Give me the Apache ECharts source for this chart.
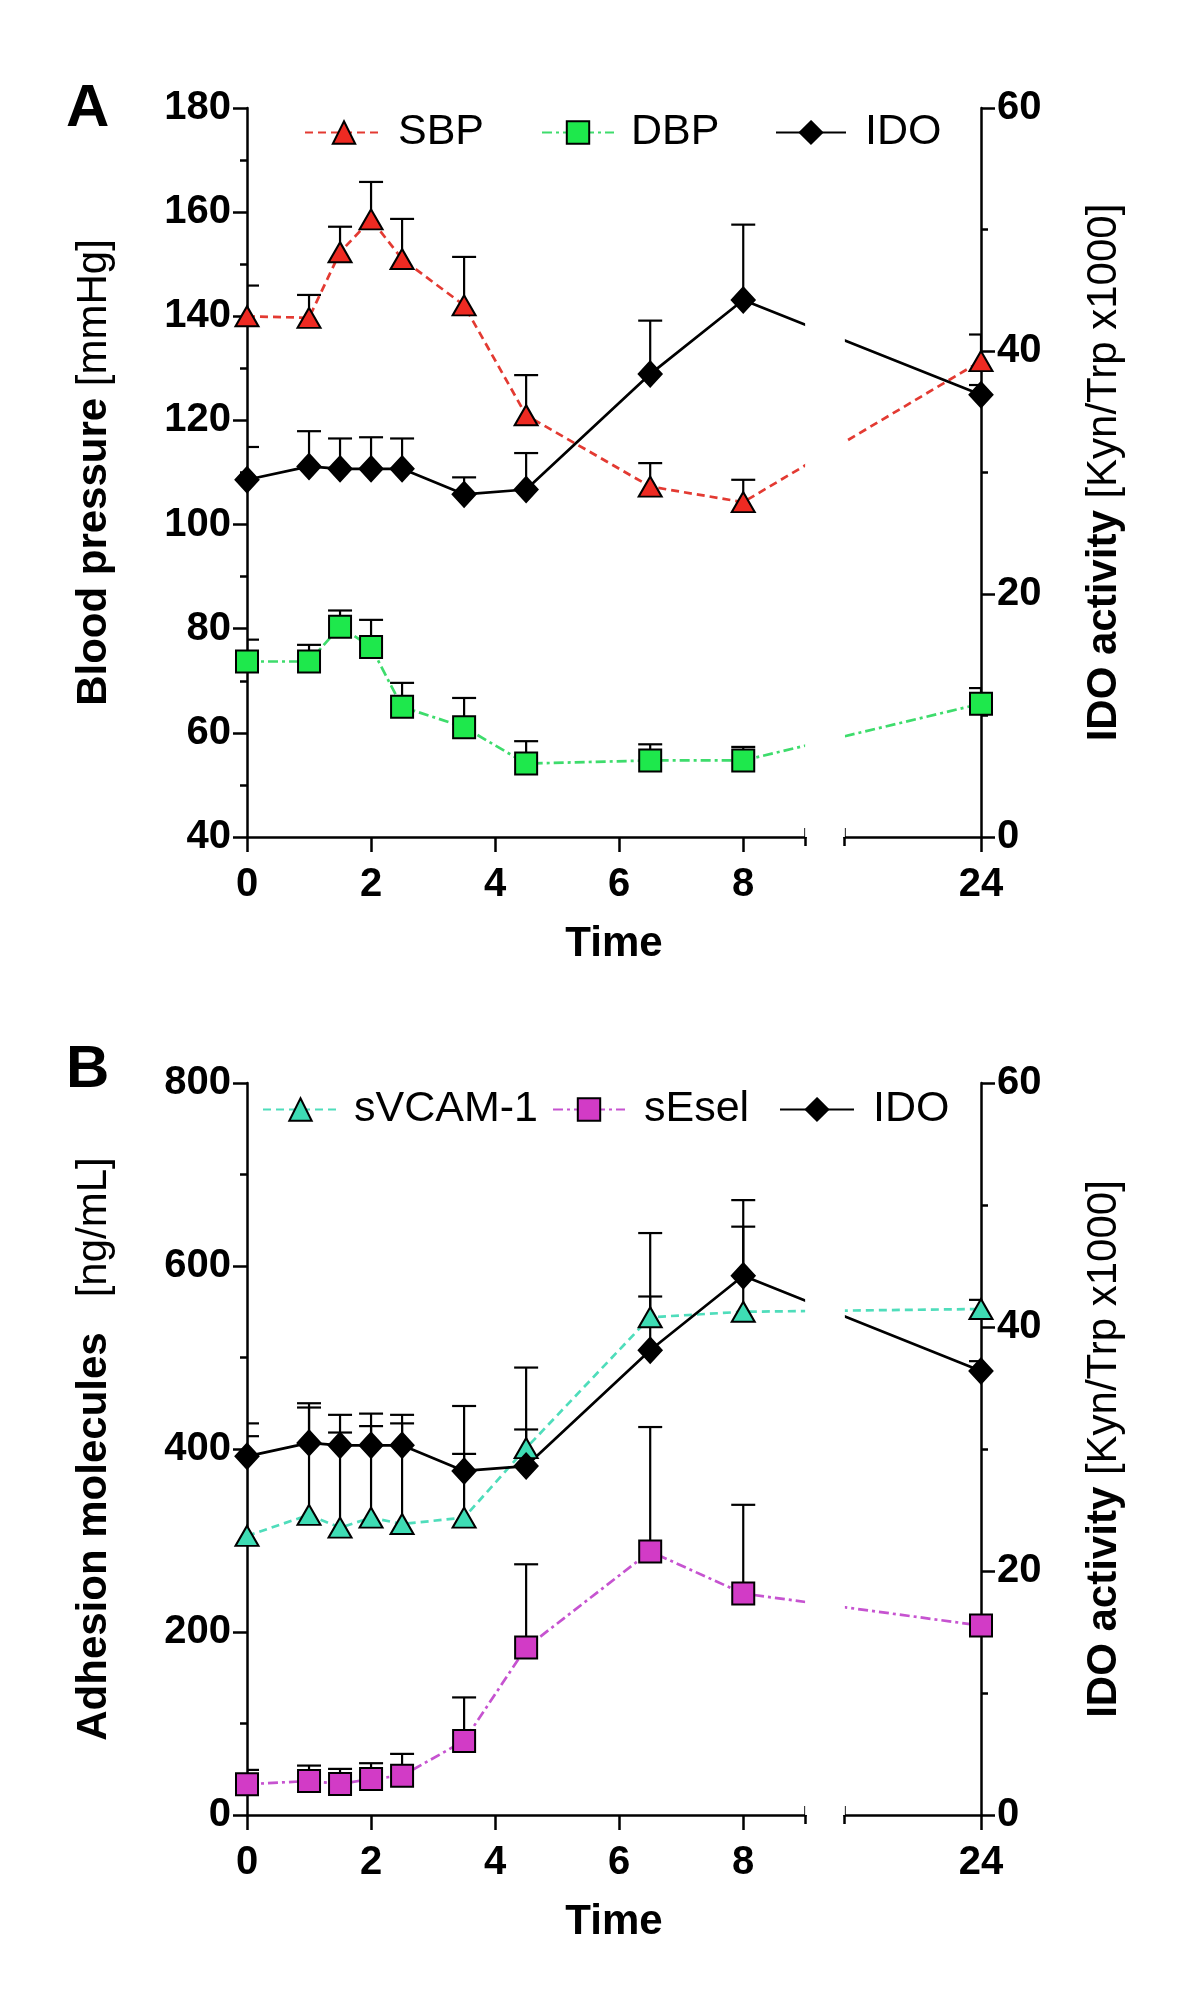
<!DOCTYPE html>
<html><head><meta charset="utf-8">
<script src="https://cdn.jsdelivr.net/npm/echarts@6/dist/echarts.min.js"></script>
<style>html,body{margin:0;padding:0;background:#fff}#c{width:1200px;height:2011px}</style>
</head><body><div id="c"></div>
<script>
// ---- data ----
const times = [0, 1, 1.5, 2, 2.5, 3.5, 4.5, 6.5, 8, 24];
const xLabelValues = [0, 2, 4, 6, 8, 24];
const breakStart = 9, breakEnd = 21.8;

const sbpMean = [140, 139.7, 152.3, 158.6, 151, 142.1, 121, 107.3, 104.3, 131.4];
const sbpErr  = [5.9, 4.4, 4.9, 7.2, 7.7, 9.3, 7.7, 4.5, 4.3, 5.1];
const dbpMean = [73.7, 73.7, 80.4, 76.5, 65.0, 61.1, 54.1, 54.7, 54.7, 65.6];
const dbpErr  = [4.2, 3.2, 3.1, 5.2, 4.6, 5.6, 4.3, 3.1, 2.6, 3.0];
const idoMean = [29.4, 30.5, 30.3, 30.3, 30.3, 28.2, 28.6, 38.1, 44.2, 36.4];
const idoErr  = [2.7, 2.9, 2.5, 2.6, 2.5, 1.4, 3.0, 4.4, 6.2, 0.8];
const vcamMean = [305, 328, 314, 325, 318, 325, 401, 544, 550, 553];
const vcamErr  = [109, 122, 104, 100, 110, 122, 88, 92, 93, 10];
const eselMean = [33.6, 37.2, 34, 39.4, 43, 81, 183, 288, 242, 207];
const eselErr  = [15.7, 16.8, 16.4, 17.2, 23.8, 47.5, 91, 136, 97, 5];

const bpTicks = {min: 40, max: 180, interval: 20};
const amTicks = {min: 0, max: 800, interval: 200};
const idoTicks = {min: 0, max: 60, interval: 20};

// ---- styling ----
const F = '"Liberation Sans", Arial, Helvetica, sans-serif';
const AX = {color: '#000', width: 2.5};
const C = {
  sbp: {fill: '#EE2A22', line: '#E33A32'},
  dbp: {fill: '#1EE84C', line: '#3EDC6C'},
  ido: {fill: '#000000', line: '#000000'},
  vcam: {fill: '#3EDCB4', line: '#4FDDBB'},
  esel: {fill: '#D23BC6', line: '#C653D0'}
};
const pairs = (m) => times.map((t, i) => [t, m[i]]);
const triples = (m, e) => times.map((t, i) => [t, m[i], e[i]]);

function xAxes(grid) {
  const base = {
    type: 'value', gridIndex: grid, position: 'bottom', offset: 0, min: 0, max: 24,
    breaks: [{start: breakStart, end: breakEnd, gap: 0.633}],
    breakArea: {show: true, itemStyle: {color: '#fff', borderColor: '#fff', borderWidth: 0, opacity: 1}, zigzagAmplitude: 0, expandOnClick: false},
    splitLine: {show: false}
  };
  return [
    Object.assign({}, base, {
      axisLine: {show: true, onZero: false, lineStyle: AX},
      axisTick: {show: true, length: 15, lineStyle: AX, customValues: xLabelValues},
      axisLabel: {show: true, margin: 28, fontSize: 40, fontWeight: 'bold', color: '#000', fontFamily: F, customValues: xLabelValues},
      name: 'Time', nameLocation: 'middle', nameGap: 86,
      nameTextStyle: {fontSize: 42, fontWeight: 'bold', color: '#000', fontFamily: F}
    }),
    Object.assign({}, base, {
      axisLine: {show: false, onZero: false},
      axisTick: {show: true, inside: true, length: 9, lineStyle: AX, customValues: [breakStart, breakEnd]},
      axisLabel: {show: false}
    }),
    Object.assign({}, base, {
      axisLine: {show: false, onZero: false},
      axisTick: {show: true, inside: false, length: 9, lineStyle: AX, customValues: [breakStart, breakEnd]},
      axisLabel: {show: false}
    })
  ];
}

function yAxis(grid, pos, ticks, name, nameGap) {
  return {
    type: 'value', gridIndex: grid, position: pos,
    min: ticks.min, max: ticks.max, interval: ticks.interval,
    axisLine: {show: true, onZero: false, lineStyle: AX},
    axisTick: {show: true, length: 14, lineStyle: AX},
    minorTick: {show: true, splitNumber: 2, length: 7, lineStyle: AX},
    splitLine: {show: false}, minorSplitLine: {show: false},
    axisLabel: {margin: 16, fontSize: 40, fontWeight: 'bold', color: '#000', fontFamily: F},
    name: name, nameLocation: 'middle', nameRotate: 90, nameGap: nameGap,
    nameTextStyle: {color: '#000', fontFamily: F, fontSize: 42, rich: {
      b: {fontSize: 42, fontWeight: 'bold', color: '#000', fontFamily: F},
      n: {fontSize: 42, fontWeight: 'normal', color: '#000', fontFamily: F}
    }}
  };
}

function lineSeries(name, xi, yi, mean, col, dash, symbol, size) {
  return {
    type: 'line', name: name, xAxisIndex: xi, yAxisIndex: yi,
    data: pairs(mean), symbol: symbol, symbolSize: size,
    lineStyle: {color: col.line, width: 2.7, type: dash},
    itemStyle: {color: col.fill, borderColor: '#000', borderWidth: 2},
    z: 4, animation: false, emphasis: {disabled: true}, clip: false
  };
}

function errSeries(xi, yi, mean, err) {
  return {
    type: 'custom', xAxisIndex: xi, yAxisIndex: yi, data: triples(mean, err),
    z: 3, animation: false, clip: true, silent: true,
    renderItem: function (params, api) {
      const x = api.value(0), y = api.value(1), e = api.value(2);
      const p0 = api.coord([x, y]), p1 = api.coord([x, y + e]);
      const w = 12;
      return {type: 'group', children: [
        {type: 'line', shape: {x1: p0[0], y1: p0[1], x2: p1[0], y2: p1[1]}, style: {stroke: '#000', lineWidth: 2.2}},
        {type: 'line', shape: {x1: p1[0] - w, y1: p1[1], x2: p1[0] + w, y2: p1[1]}, style: {stroke: '#000', lineWidth: 2.2}}
      ]};
    }
  };
}

function legendItem(name, left, top, width, pad) {
  return {
    data: [name], left: left, top: top, itemWidth: width, itemHeight: 28,
    selectedMode: false, z: 300, padding: 0,
    textStyle: {fontSize: 43, color: '#000', fontFamily: F, padding: [0, 0, 0, pad]}
  };
}

const dashed = [8, 5];
const dashDot = [10, 4, 3, 4];
const TRI = [23, 20], SQ = 22, DIA = [23, 25];

const chart = echarts.init(document.getElementById('c'), null, {renderer: 'canvas'});
chart.setOption({
  backgroundColor: '#fff',
  animation: false,
  grid: [
    {left: 247, top: 108, width: 734, height: 729},
    {left: 247, top: 1083, width: 734, height: 732}
  ],
  xAxis: xAxes(0).concat(xAxes(1)),
  yAxis: [
    yAxis(0, 'left', bpTicks, '{b|Blood pressure }{n|[mmHg]}', 132),
    yAxis(0, 'right', idoTicks, '{b|IDO activity }{n|[Kyn/Trp x1000]}', 102),
    yAxis(1, 'left', amTicks, '{b|Adhesion molecules}{n|   [ng/mL]}', 132),
    yAxis(1, 'right', idoTicks, '{b|IDO activity }{n|[Kyn/Trp x1000]}', 102)
  ],
  legend: [
    legendItem('SBP', 304, 111, 78, 10),
    legendItem('DBP', 541, 111, 72, 12),
    legendItem('IDO', 775, 111, 70, 14),
    legendItem('sVCAM-1', 262, 1088, 75, 11),
    legendItem('sEsel', 552, 1088, 72, 14),
    legendItem('IDO ', 779, 1088, 74, 14)
  ],
  graphic: [
    {type: 'text', left: 66, top: 79, z: 100, style: {text: 'A', fontSize: 60, fontWeight: 'bold', fill: '#000', fontFamily: F}},
    {type: 'text', left: 66, top: 1040, z: 100, style: {text: 'B', fontSize: 60, fontWeight: 'bold', fill: '#000', fontFamily: F}}
  ],
  series: [
    errSeries(0, 0, sbpMean, sbpErr),
    errSeries(0, 0, dbpMean, dbpErr),
    errSeries(0, 1, idoMean, idoErr),
    lineSeries('SBP', 0, 0, sbpMean, C.sbp, dashed, 'triangle', TRI),
    lineSeries('DBP', 0, 0, dbpMean, C.dbp, dashDot, 'rect', SQ),
    lineSeries('IDO', 0, 1, idoMean, C.ido, 'solid', 'diamond', DIA),
    errSeries(3, 2, vcamMean, vcamErr),
    errSeries(3, 2, eselMean, eselErr),
    errSeries(3, 3, idoMean, idoErr),
    lineSeries('sVCAM-1', 3, 2, vcamMean, C.vcam, dashed, 'triangle', TRI),
    lineSeries('sEsel', 3, 2, eselMean, C.esel, dashDot, 'rect', SQ),
    lineSeries('IDO ', 3, 3, idoMean, C.ido, 'solid', 'diamond', DIA)
  ]
});
</script>
</body></html>
